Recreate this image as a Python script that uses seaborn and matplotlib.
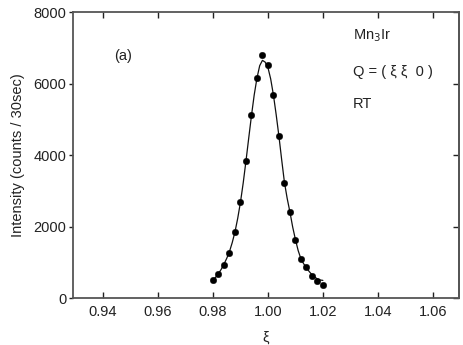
import matplotlib
matplotlib.use("Agg")
import matplotlib.pyplot as plt
import seaborn as sns
import pandas as pd

# Measured scan across the (ξ ξ 0) reflection
xi = [0.980, 0.982, 0.984, 0.986, 0.988, 0.990, 0.992, 0.994, 0.996, 0.998,
      1.000, 1.002, 1.004, 1.006, 1.008, 1.010, 1.012, 1.014, 1.016, 1.018, 1.020]
counts = [495, 680, 930, 1260, 1860, 2680, 3830, 5110, 6160, 6790,
          6510, 5680, 4530, 3220, 2420, 1630, 1090, 860, 625, 470, 365]

# Fitted profile
fit_xi = [0.980, 0.981, 0.982, 0.983, 0.984, 0.985, 0.986, 0.987, 0.988, 0.989,
          0.990, 0.991, 0.992, 0.993, 0.994, 0.995, 0.996, 0.997, 0.998, 0.999,
          1.000, 1.001, 1.002, 1.003, 1.004, 1.005, 1.006, 1.007, 1.008, 1.009,
          1.010, 1.011, 1.012, 1.013, 1.014, 1.015, 1.016, 1.017, 1.018, 1.019, 1.020]
fit_counts = [500, 585, 685, 805, 950, 1110, 1300, 1550, 1850, 2230,
              2680, 3220, 3830, 4470, 5100, 5680, 6150, 6500, 6650, 6600,
              6450, 6130, 5680, 5130, 4530, 3870, 3240, 2790, 2410, 1990,
              1640, 1330, 1100, 960, 850, 745, 655, 590, 535, 505, 495]

x_ticks = [0.94, 0.96, 0.98, 1.00, 1.02, 1.04, 1.06]
y_ticks = [0, 2000, 4000, 6000, 8000]

sns.set_style("ticks")
plt.rcParams["font.family"] = ["Liberation Sans", "DejaVu Sans"]

data = pd.DataFrame({"xi": xi, "counts": counts})
fit = pd.DataFrame({"xi": fit_xi, "counts": fit_counts})

fig = plt.figure(figsize=(4.64, 3.45), dpi=100)
ax = fig.add_axes([0.157, 0.136, 0.832, 0.829])

sns.lineplot(data=fit, x="xi", y="counts", ax=ax, color="#111111",
             linewidth=0.9, sort=True)
sns.scatterplot(data=data, x="xi", y="counts", ax=ax, color="black",
                s=22, edgecolor="black", linewidth=0.3, zorder=3)

ax.set_xlim(0.929, 1.0695)
ax.set_ylim(0, 8000)
ax.set_xticks(x_ticks)
ax.set_xticklabels([f"{t:.2f}" for t in x_ticks])
ax.set_yticks(y_ticks)
ax.set_yticklabels([str(t) for t in y_ticks])

ax.tick_params(axis="x", direction="in", top=True, length=4, width=1,
               labelsize=10.5, colors="#222222", pad=5)
ax.tick_params(axis="y", direction="out", length=3, width=1,
               labelsize=10.5, colors="#222222", pad=1.5)

right = ax.secondary_yaxis("right")
right.set_yticks(y_ticks)
right.tick_params(direction="in", length=4, width=1, labelright=False,
                  colors="#222222")
right.spines["right"].set_color("#555555")
right.spines["right"].set_linewidth(1.3)

for side in ["left", "bottom", "top", "right"]:
    ax.spines[side].set_visible(True)
    ax.spines[side].set_color("#555555")
    ax.spines[side].set_linewidth(1.3)

ax.set_xlabel("ξ", fontsize=10.5, labelpad=8, color="#222222")
ax.set_ylabel("Intensity (counts / 30sec)", fontsize=10.5, labelpad=6,
              color="#222222")

ax.text(0.9473, 6780, "(a)", fontsize=10.5, ha="center", va="center",
        color="#222222")
ax.text(1.0309, 7340, "Mn$_3$Ir", fontsize=10.5, ha="left", va="center",
        color="#222222")
ax.text(1.0309, 6330, "Q = ( ξ ξ  0 )", fontsize=10.5, ha="left", va="center",
        color="#222222")
ax.text(1.0309, 5430, "RT", fontsize=10.5, ha="left", va="center",
        color="#222222")

fig.savefig("out.png", dpi=100)
